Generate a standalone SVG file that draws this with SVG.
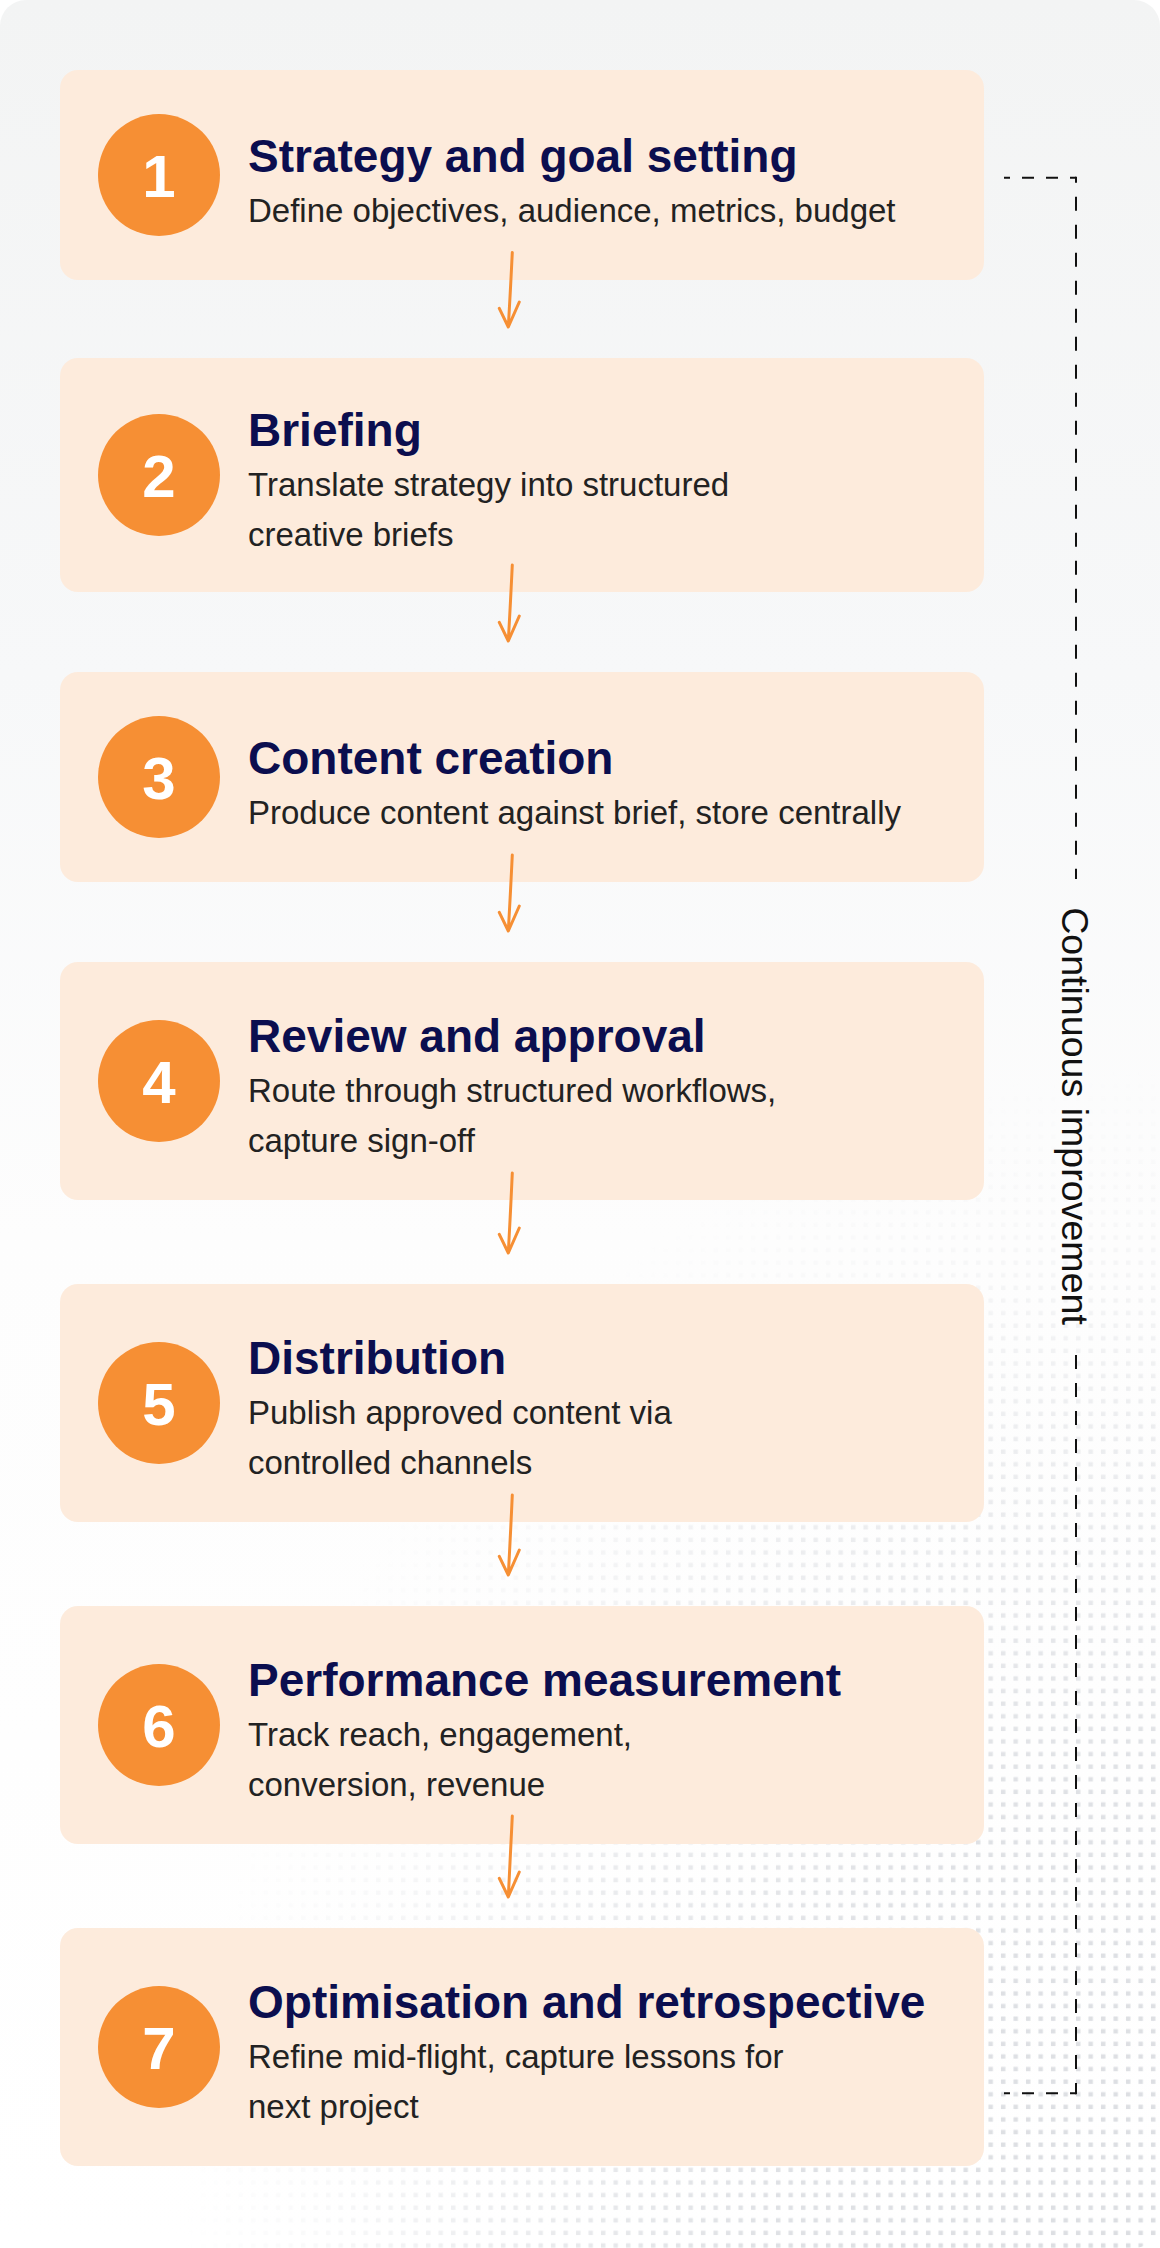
<svg xmlns="http://www.w3.org/2000/svg" width="1160" height="2248" viewBox="0 0 1160 2248">
  <defs>
    <linearGradient id="bg" x1="0" y1="0" x2="0" y2="2248" gradientUnits="userSpaceOnUse">
      <stop offset="0" stop-color="#f3f4f4"/>
      <stop offset="0.3" stop-color="#f7f8f9"/>
      <stop offset="0.55" stop-color="#fdfdfd"/>
      <stop offset="1" stop-color="#ffffff"/>
    </linearGradient>
    <pattern id="dots" x="0" y="0" width="12.5" height="12.6" patternUnits="userSpaceOnUse">
      <rect x="1" y="0.5" width="4.4" height="4.4" fill="#dcdee2"/>
    </pattern>
    <radialGradient id="fade" cx="0" cy="0" r="1" gradientUnits="userSpaceOnUse" gradientTransform="translate(1160 2248) scale(980 1180)">
      <stop offset="0" stop-color="#fff" stop-opacity="1"/>
      <stop offset="0.4" stop-color="#fff" stop-opacity="0.9"/>
      <stop offset="0.7" stop-color="#fff" stop-opacity="0.5"/>
      <stop offset="0.88" stop-color="#fff" stop-opacity="0.15"/>
      <stop offset="1" stop-color="#fff" stop-opacity="0"/>
    </radialGradient>
    <mask id="dotmask" maskUnits="userSpaceOnUse" x="0" y="0" width="1160" height="2248">
      <rect x="0" y="0" width="1160" height="2248" fill="url(#fade)"/>
    </mask>
    <clipPath id="frameclip">
      <rect x="0" y="0" width="1160" height="2248" rx="26"/>
    </clipPath>
  </defs>
  <style>
    .box { fill: #fdebdc; }
    .badge { fill: #f68f34; }
    .num { font-family: "Liberation Sans", Arial, sans-serif; font-weight: 700; font-size: 60px; fill: #ffffff; text-anchor: middle; }
    .title { font-family: "Liberation Sans", Arial, sans-serif; font-weight: 700; font-size: 46px; fill: #0b0e4f; }
    .sub { font-family: "Liberation Sans", Arial, sans-serif; font-size: 33px; fill: #222222; }
    .arrow { fill: none; stroke: #f68f34; stroke-width: 3; stroke-linecap: round; stroke-linejoin: round; }
    .dash { fill: none; stroke: #111111; stroke-width: 2; }
    .hdash { stroke-dasharray: 12 12; stroke-dashoffset: 6; }
    .vdash { stroke-dasharray: 14 14; }
    .loop { font-family: "Liberation Sans", Arial, sans-serif; font-size: 37.6px; fill: #111111; text-anchor: middle; }
  </style>

  <g id="background">
    <rect x="0" y="0" width="1160" height="2248" fill="#ffffff"/>
    <rect x="0" y="0" width="1160" height="2248" rx="26" fill="url(#bg)"/>
    <g clip-path="url(#frameclip)">
      <rect x="0" y="0" width="1160" height="2248" fill="url(#dots)" mask="url(#dotmask)"/>
    </g>
  </g>

  <g id="step1">
    <rect class="box" x="60" y="70" width="924" height="210" rx="18"/>
    <circle class="badge" cx="159" cy="175" r="61"/>
    <text class="num" x="159" y="197">1</text>
    <text class="title" x="248" y="172">Strategy and goal setting</text>
    <text class="sub" x="248" y="222">Define objectives, audience, metrics, budget</text>
  </g>

  <g id="step2">
    <rect class="box" x="60" y="358" width="924" height="234" rx="18"/>
    <circle class="badge" cx="159" cy="475" r="61"/>
    <text class="num" x="159" y="497">2</text>
    <text class="title" x="248" y="446">Briefing</text>
    <text class="sub" x="248" y="496">Translate strategy into structured</text>
    <text class="sub" x="248" y="546">creative briefs</text>
  </g>

  <g id="step3">
    <rect class="box" x="60" y="672" width="924" height="210" rx="18"/>
    <circle class="badge" cx="159" cy="777" r="61"/>
    <text class="num" x="159" y="799">3</text>
    <text class="title" x="248" y="774">Content creation</text>
    <text class="sub" x="248" y="824">Produce content against brief, store centrally</text>
  </g>

  <g id="step4">
    <rect class="box" x="60" y="962" width="924" height="238" rx="18"/>
    <circle class="badge" cx="159" cy="1081" r="61"/>
    <text class="num" x="159" y="1103">4</text>
    <text class="title" x="248" y="1052">Review and approval</text>
    <text class="sub" x="248" y="1102">Route through structured workflows,</text>
    <text class="sub" x="248" y="1152">capture sign-off</text>
  </g>

  <g id="step5">
    <rect class="box" x="60" y="1284" width="924" height="238" rx="18"/>
    <circle class="badge" cx="159" cy="1403" r="61"/>
    <text class="num" x="159" y="1425">5</text>
    <text class="title" x="248" y="1374">Distribution</text>
    <text class="sub" x="248" y="1424">Publish approved content via</text>
    <text class="sub" x="248" y="1474">controlled channels</text>
  </g>

  <g id="step6">
    <rect class="box" x="60" y="1606" width="924" height="238" rx="18"/>
    <circle class="badge" cx="159" cy="1725" r="61"/>
    <text class="num" x="159" y="1747">6</text>
    <text class="title" x="248" y="1696">Performance measurement</text>
    <text class="sub" x="248" y="1746">Track reach, engagement,</text>
    <text class="sub" x="248" y="1796">conversion, revenue</text>
  </g>

  <g id="step7">
    <rect class="box" x="60" y="1928" width="924" height="238" rx="18"/>
    <circle class="badge" cx="159" cy="2047" r="61"/>
    <text class="num" x="159" y="2069">7</text>
    <text class="title" x="248" y="2018">Optimisation and retrospective</text>
    <text class="sub" x="248" y="2068">Refine mid-flight, capture lessons for</text>
    <text class="sub" x="248" y="2118">next project</text>
  </g>

  <g id="connectors">
    <path class="arrow" d="M512.3,252.5 Q510.5,290 508.3,327 M499.3,308.3 L508.3,327 L519.3,302"/>
    <path class="arrow" d="M512.3,565 Q510.5,603 508.3,641 M499.3,622.3 L508.3,641 L519.3,616"/>
    <path class="arrow" d="M512.3,855 Q510.5,893 508.3,931 M499.3,912.3 L508.3,931 L519.3,906"/>
    <path class="arrow" d="M512.3,1173 Q510.5,1213 508.3,1253 M499.3,1234.3 L508.3,1253 L519.3,1228"/>
    <path class="arrow" d="M512.3,1495 Q510.5,1535 508.3,1575 M499.3,1556.3 L508.3,1575 L519.3,1550"/>
    <path class="arrow" d="M512.3,1816 Q510.5,1856 508.3,1897 M499.3,1878.3 L508.3,1897 L519.3,1872"/>
    <g id="loop">
      <line class="dash hdash" x1="1004" y1="177.7" x2="1076" y2="177.7"/>
      <line class="dash vdash" x1="1076" y1="176.7" x2="1076" y2="879" style="stroke-dashoffset: 8"/>
      <line class="dash vdash" x1="1076" y1="1355" x2="1076" y2="2094.3"/>
      <line class="dash hdash" x1="1004" y1="2093.3" x2="1076" y2="2093.3"/>
      <text class="loop" transform="translate(1062,1116) rotate(90)" x="0" y="0">Continuous improvement</text>
    </g>
  </g>
</svg>
